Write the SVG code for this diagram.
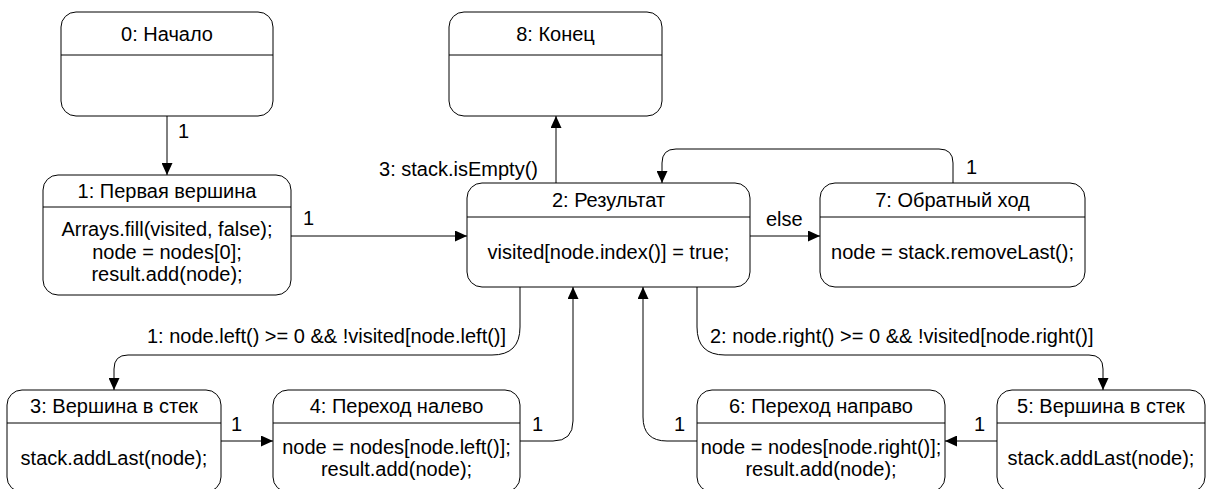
<svg xmlns="http://www.w3.org/2000/svg" width="1209" height="489" viewBox="0 0 1209 489">
<defs>
<marker id="arr" markerUnits="userSpaceOnUse" markerWidth="12" markerHeight="11" refX="12" refY="5.5" orient="auto">
<path d="M0,0 L12,5.5 L0,11 z" fill="#000"/>
</marker>
<style>
.box{fill:#fff;stroke:#000;stroke-width:1}
.div{stroke:#000;stroke-width:1}
text{font-family:"Liberation Sans",Arial,sans-serif;font-size:20px;fill:#000}
.c{text-anchor:middle}
.e{fill:none;stroke:#000;stroke-width:1;marker-end:url(#arr)}
</style>
</defs>
<rect width="1209" height="489" fill="#fff"/>
<g id="connectors">
<path class="e" d="M167,116 V175"/>
<path class="e" d="M291,236 H467"/>
<path class="e" d="M556,183 V116"/>
<path class="e" d="M750,236 H820"/>
<path class="e" d="M953,183 V163 Q953,149 939,149 H676 Q662,149 662,163 V183"/>
<path class="e" d="M520,287 V327 Q520,355 492,355 H128 Q114,355 114,369 V390"/>
<path class="e" d="M697,287 V327 Q697,355 725,355 H1089 Q1103,355 1103,369 V390"/>
<path class="e" d="M221,441 H273"/>
<path class="e" d="M520,441 H553 Q573,441 573,421 V287"/>
<path class="e" d="M697,441 H667 Q643,441 643,417 V287"/>
<path class="e" d="M997,441 H945"/>
<text x="178" y="138">1</text>
<text x="303" y="225">1</text>
<text x="538" y="176" text-anchor="end">3: stack.isEmpty()</text>
<text x="766" y="226">else</text>
<text x="966" y="174">1</text>
<text x="147" y="343">1: node.left() &gt;= 0 &amp;&amp; !visited[node.left()]</text>
<text x="710" y="343">2: node.right() &gt;= 0 &amp;&amp; !visited[node.right()]</text>
<text x="231" y="431">1</text>
<text x="532" y="431">1</text>
<text x="674" y="431">1</text>
<text x="974" y="431">1</text>
</g>
<g id="node0">
<rect class="box" x="61" y="12" width="212" height="104" rx="15"/>
<line class="div" x1="61" y1="55" x2="273" y2="55"/>
<text class="c" x="167" y="41">0: Начало</text>
</g>
<g id="node8">
<rect class="box" x="449" y="12" width="213" height="104" rx="15"/>
<line class="div" x1="449" y1="55" x2="662" y2="55"/>
<text class="c" x="555.5" y="41">8: Конец</text>
</g>
<g id="node1">
<rect class="box" x="43" y="175" width="248" height="120" rx="15"/>
<line class="div" x1="43" y1="207" x2="291" y2="207"/>
<text class="c" x="167" y="198">1: Первая вершина</text>
<text class="c" x="167" y="236">Arrays.fill(visited, false);</text>
<text class="c" x="167" y="258.5">node = nodes[0];</text>
<text class="c" x="167" y="281">result.add(node);</text>
</g>
<g id="node2">
<rect class="box" x="467" y="183" width="283" height="104" rx="15"/>
<line class="div" x1="467" y1="217" x2="750" y2="217"/>
<text class="c" x="608.5" y="207">2: Результат</text>
<text class="c" x="608.5" y="259">visited[node.index()] = true;</text>
</g>
<g id="node7">
<rect class="box" x="820" y="183" width="265" height="104" rx="15"/>
<line class="div" x1="820" y1="217" x2="1085" y2="217"/>
<text class="c" x="952.5" y="207">7: Обратный ход</text>
<text class="c" x="952.5" y="259">node = stack.removeLast();</text>
</g>
<g id="node3">
<rect class="box" x="7" y="390" width="214" height="102" rx="15"/>
<line class="div" x1="7" y1="423" x2="221" y2="423"/>
<text class="c" x="114" y="413">3: Вершина в стек</text>
<text class="c" x="114" y="465">stack.addLast(node);</text>
</g>
<g id="node4">
<rect class="box" x="273" y="390" width="247" height="102" rx="15"/>
<line class="div" x1="273" y1="423" x2="520" y2="423"/>
<text class="c" x="396.5" y="413">4: Переход налево</text>
<text class="c" x="396.5" y="454">node = nodes[node.left()];</text>
<text class="c" x="396.5" y="476">result.add(node);</text>
</g>
<g id="node6">
<rect class="box" x="697" y="390" width="248" height="102" rx="15"/>
<line class="div" x1="697" y1="423" x2="945" y2="423"/>
<text class="c" x="821" y="413">6: Переход направо</text>
<text class="c" x="821" y="454">node = nodes[node.right()];</text>
<text class="c" x="821" y="476">result.add(node);</text>
</g>
<g id="node5">
<rect class="box" x="997" y="390" width="208" height="102" rx="15"/>
<line class="div" x1="997" y1="423" x2="1205" y2="423"/>
<text class="c" x="1101" y="413">5: Вершина в стек</text>
<text class="c" x="1101" y="465">stack.addLast(node);</text>
</g>
</svg>
